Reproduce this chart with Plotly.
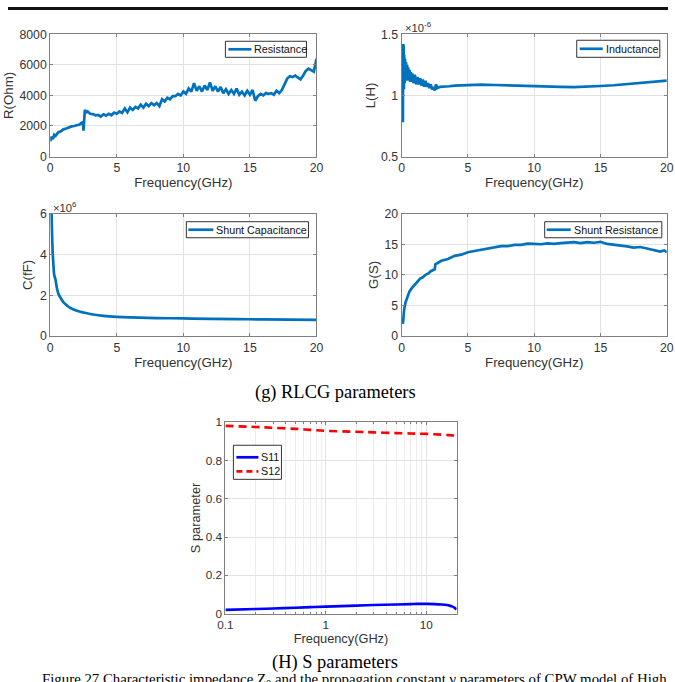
import plotly.graph_objects as go

# ---------------- data ----------------
R_freq = [0.0,0.1,0.2,0.3,0.4,0.6,0.8,1.0,1.2,1.4,1.6,1.8,2.0,2.2,2.35,2.45,2.5,2.55,2.6,2.7,2.8,3.0,3.2,3.4,3.6,3.8,
          4.0,4.2,4.4,4.6,4.8,5.0,5.2,5.4,5.6,5.8,6.0,6.2,6.4,6.6,6.8,7.0,7.2,7.4,7.6,7.8,8.0,8.2,8.4,8.6,8.8,
          9.0,9.2,9.4,9.6,9.8,10.0,10.2,10.4,10.6,10.8,11.0,11.2,11.4,11.6,11.8,12.0,12.2,12.4,12.6,12.8,
          13.0,13.2,13.4,13.6,13.8,14.0,14.2,14.4,14.6,14.8,15.0,15.2,15.4,15.6,15.8,16.0,16.2,16.4,16.6,16.8,
          17.0,17.2,17.4,17.6,17.8,18.0,18.2,18.4,18.6,18.8,19.0,19.2,19.4,19.6,19.8,20.0]
R_ohm = [1000,1300,1150,1420,1350,1580,1650,1780,1830,1920,1970,2000,2060,2100,2200,2250,1700,2400,3050,2900,2950,2800,2780,2700,2720,2620,
         2760,2680,2800,2700,2880,2800,2950,2850,3150,2900,3200,3050,3250,3150,3400,3200,3450,3300,3500,3350,3500,3300,3750,3600,3850,
         3750,3950,3950,4100,4000,4250,4100,4450,4250,4800,4300,4600,4250,4650,4350,4850,4300,4600,4250,4550,
         4150,4400,4100,4350,4100,4450,4050,4250,4000,4300,4050,4350,3650,3950,4100,4000,4150,4100,4150,4050,
         4300,4150,4350,4700,5100,5250,5200,5300,5150,5050,5300,5600,5750,5650,5550,6400]

L_freq = [0.1,0.12,0.14,0.16,0.18,0.2,0.23,0.26,0.3,0.34,0.38,0.42,0.46,0.5,0.55,0.6,0.65,0.7,0.75,0.8,0.9,1.0,1.1,1.2,1.3,
          1.4,1.5,1.6,1.7,1.8,1.9,2.0,2.1,2.2,2.3,2.4,2.5,2.6,2.7,2.9,3.2,3.6,4.0,5.0,6.0,7.0,8.0,9.0,10.0,11.0,
          12.0,13.0,14.0,15.0,16.0,17.0,18.0,19.0,20.0]
L_uH = [0.78,1.42,0.95,1.40,1.05,1.33,1.10,1.30,1.12,1.27,1.13,1.25,1.12,1.23,1.12,1.21,1.11,1.19,1.11,1.18,1.10,1.17,1.09,1.15,1.09,
        1.14,1.08,1.13,1.07,1.12,1.07,1.10,1.06,1.09,1.05,1.07,1.04,1.09,1.06,1.07,1.07,1.075,1.08,1.085,1.088,1.085,1.083,1.08,1.08,1.075,
        1.07,1.067,1.07,1.077,1.083,1.093,1.102,1.11,1.12]

C_freq = [0.1,0.13,0.16,0.2,0.25,0.3,0.4,0.5,0.6,0.75,1.0,1.25,1.5,2.0,2.5,3.0,4.0,5.0,6.0,8.0,10.0,12.0,15.0,18.0,20.0]
C_1e6fF = [6.0,5.2,4.5,3.9,3.4,3.0,2.75,2.35,2.1,1.9,1.65,1.5,1.38,1.24,1.15,1.08,0.99,0.94,0.91,0.88,0.86,0.84,0.82,0.80,0.79]

G_freq = [0.1,0.15,0.2,0.3,0.4,0.5,0.6,0.8,1.0,1.2,1.4,1.6,1.8,2.0,2.2,2.4,2.5,2.55,2.7,3.0,3.5,4.0,4.5,5.0,5.5,6.0,6.5,7.0,7.5,
          8.0,8.5,9.0,9.5,10.0,10.5,11.0,11.5,12.0,12.5,13.0,13.5,14.0,14.5,15.0,15.5,16.0,16.5,17.0,17.5,18.0,18.5,19.0,19.5,19.8,20.0]
G_S = [2.0,3.5,4.4,5.5,6.2,6.9,7.3,7.9,8.5,8.9,9.4,9.6,10.0,10.2,10.6,10.8,10.9,11.7,11.9,12.3,12.6,13.1,13.3,13.7,13.9,14.1,14.3,14.5,14.7,
       14.7,14.9,14.9,15.1,15.05,15.0,15.15,15.05,15.2,15.25,15.35,15.2,15.35,15.25,15.4,15.05,14.95,14.75,14.65,14.45,14.55,14.3,14.0,13.8,14.0,13.7]

S_freq = [0.1,0.2,0.3,0.5,0.7,1,2,3,5,7,8,10,12,14,16,17,18,19,20]
S11 = [0.020,0.024,0.027,0.031,0.034,0.037,0.042,0.045,0.048,0.050,0.051,0.051,0.050,0.048,0.045,0.042,0.038,0.032,0.022]
S12 = [0.981,0.975,0.971,0.965,0.960,0.955,0.950,0.947,0.943,0.941,0.940,0.939,0.937,0.935,0.933,0.932,0.931,0.930,0.928]

# ---------------- layout helpers ----------------
# Observed rendering: page keeps an 8px body margin and the picture is scaled by ~0.977.
W, H = 675, 682
OFF = 8
SX, SY = 675 / 691, 682 / 698
K = 1 / SX  # size compensation

def px(x):
    return (x / SX - OFF) / W
def py(y):
    return 1 - (y / SY - OFF) / H
def dx(a, b):
    return [px(a), px(b)]
def dy(top, bottom):
    return [py(bottom), py(top)]
def fs(s):
    return round(s * K, 2)

SANS = "Liberation Sans"
SERIF = "Liberation Serif"
AXC = "#808080"
TXT = "#333333"
BLUE = "#0072BD"

def axis(**kw):
    d = dict(showline=True, linecolor=AXC, linewidth=1, mirror="ticks", ticks="inside", ticklen=3,
             tickcolor=AXC, showgrid=True, gridcolor="#e2e2e2", gridwidth=1, zeroline=False,
             tickfont=dict(family=SANS, size=fs(12), color=TXT))
    d.update(kw)
    return d

def xtitle(standoff=3, size=13):
    return dict(text="Frequency(GHz)", font=dict(family=SANS, size=fs(size), color=TXT), standoff=standoff)

def ytitle(t, standoff=2, size=13):
    return dict(text=t, font=dict(family=SANS, size=fs(size), color=TXT), standoff=standoff)

LW = 2.7
fig = go.Figure()

fig.add_trace(go.Scatter(x=R_freq, y=R_ohm, mode="lines", name="Resistance",
                         line=dict(color=BLUE, width=LW), xaxis="x", yaxis="y"))
fig.add_trace(go.Scatter(x=L_freq, y=L_uH, mode="lines", name="Inductance",
                         line=dict(color=BLUE, width=LW), xaxis="x2", yaxis="y2"))
fig.add_trace(go.Scatter(x=C_freq, y=C_1e6fF, mode="lines", name="Shunt Capacitance", line_shape="spline",
                         line=dict(color=BLUE, width=LW), xaxis="x3", yaxis="y3"))
fig.add_trace(go.Scatter(x=G_freq, y=G_S, mode="lines", name="Shunt Resistance",
                         line=dict(color=BLUE, width=LW), xaxis="x4", yaxis="y4"))
fig.add_trace(go.Scatter(x=S_freq, y=S11, mode="lines", name="S11", line_shape="spline",
                         line=dict(color="#0000FF", width=2.6), xaxis="x5", yaxis="y5"))
fig.add_trace(go.Scatter(x=S_freq, y=S12, mode="lines", name="S12", line_shape="spline",
                         line=dict(color="#FF0000", width=2.6, dash="8px,5px"), xaxis="x5", yaxis="y5"))

lin_ticks = [0, 5, 10, 15, 20]

fig.update_layout(
    width=W, height=H, margin=dict(l=0, r=0, t=0, b=0),
    paper_bgcolor="white", plot_bgcolor="white", showlegend=False,
    xaxis=axis(domain=dx(50, 316), range=[0, 20], tickvals=lin_ticks, anchor="y", title=xtitle()),
    yaxis=axis(domain=dy(35, 157), range=[0, 8000], tickvals=[0, 2000, 4000, 6000, 8000], anchor="x",
               title=ytitle("R(Ohm)")),
    xaxis2=axis(domain=dx(401, 666), range=[0, 20], tickvals=lin_ticks, anchor="y2", title=xtitle()),
    yaxis2=axis(domain=dy(35, 157), range=[0.5, 1.5], tickvals=[0.5, 1, 1.5], ticktext=["0.5", "1", "1.5"],
                anchor="x2", title=ytitle("L(H)")),
    xaxis3=axis(domain=dx(50, 316), range=[0, 20], tickvals=lin_ticks, anchor="y3", title=xtitle()),
    yaxis3=axis(domain=dy(214, 336), range=[0, 6], tickvals=[0, 2, 4, 6], anchor="x3",
                title=ytitle("C(fF)", standoff=4)),
    xaxis4=axis(domain=dx(401, 666), range=[0, 20], tickvals=lin_ticks, anchor="y4", title=xtitle()),
    yaxis4=axis(domain=dy(214, 336), range=[0, 20], tickvals=[0, 5, 10, 15, 20], anchor="x4",
                title=ytitle("G(S)")),
    xaxis5=axis(domain=dx(225, 456), type="log", range=[-1, 1.30103], tickvals=[0.1, 1, 10],
                ticktext=["0.1", "1", "10"], anchor="y5", title=xtitle(size=12.5),
                tickfont=dict(family=SANS, size=fs(11.5), color=TXT),
                minor=dict(showgrid=True, gridcolor="#ededed", ticks="inside", ticklen=2, tickcolor=AXC,
                           tickvals=[0.2,0.3,0.4,0.5,0.6,0.7,0.8,0.9,2,3,4,5,6,7,8,9,20])),
    yaxis5=axis(domain=dy(422, 613), range=[0, 1], tickvals=[0, 0.2, 0.4, 0.6, 0.8, 1],
                ticktext=["0", "0.2", "0.4", "0.6", "0.8", "1"], anchor="x5",
                tickfont=dict(family=SANS, size=fs(11.5), color=TXT), title=ytitle("S parameter", size=12.5)),
)

shapes = []
annotations = []

def legend_box(x0, x1, y0, y1, entries):
    # entries: (name, line y, line x0, line x1, colour, dash)
    shapes.append(dict(type="rect", xref="paper", yref="paper", x0=px(x0), x1=px(x1), y0=py(y1), y1=py(y0),
                       fillcolor="white", line=dict(color="#333333", width=1), layer="above"))
    for name, ly, lx0, lx1, col, dash in entries:
        shapes.append(dict(type="line", xref="paper", yref="paper", x0=px(lx0), x1=px(lx1), y0=py(ly), y1=py(ly),
                           line=dict(color=col, width=LW, dash=dash), layer="above"))
        annotations.append(dict(text=name, x=px(lx1 + 1), y=py(ly), xanchor="left", yanchor="middle",
                                font=dict(family=SANS, size=fs(10.5), color="#111")))

legend_box(225, 306, 42, 58, [(fig.data[0].name, 50, 228, 251, BLUE, "solid")])
legend_box(576, 659, 41, 58, [(fig.data[1].name, 49.5, 579, 602, BLUE, "solid")])
legend_box(186, 308, 222, 238, [(fig.data[2].name, 230, 188, 213, BLUE, "solid")])
legend_box(544, 661, 222, 238, [(fig.data[3].name, 230, 546, 570, BLUE, "solid")])
legend_box(233, 281, 445, 479, [(fig.data[4].name, 457, 236, 258, "#0000FF", "solid"),
                                (fig.data[5].name, 471, 236, 258, "#FF0000", "6px,4px")])

annotations += [
    dict(text="×10<sup>-6</sup>", x=px(402), y=py(28), xanchor="left", yanchor="middle",
         font=dict(family=SANS, size=fs(11), color=TXT)),
    dict(text="×10<sup>6</sup>", x=px(51), y=py(207), xanchor="left", yanchor="middle",
         font=dict(family=SANS, size=fs(11), color=TXT)),
    dict(text="(g) RLCG parameters", x=px(335), y=py(392), xanchor="center", yanchor="middle",
         font=dict(family=SERIF, size=fs(18), color="#000")),
    dict(text="(H) S parameters", x=px(335), y=py(662), xanchor="center", yanchor="middle",
         font=dict(family=SERIF, size=fs(18), color="#000")),
    dict(text="Figure 27 Characteristic impedance Z<sub>0</sub> and the propagation constant γ parameters of CPW model of High",
         x=px(40), y=py(668), xanchor="left", yanchor="top",
         font=dict(family=SERIF, size=fs(14.5), color="#000")),
]
for a in annotations:
    a.update(xref="paper", yref="paper", showarrow=False)

# dark rule at the top of the page (as high as the page allows)
shapes.append(dict(type="rect", xref="paper", yref="paper", x0=0, x1=1, y0=1 - 3 / H, y1=1,
                   fillcolor="#111111", line=dict(width=0)))

fig.update_layout(annotations=annotations, shapes=shapes)

fig.write_html("out.html")
